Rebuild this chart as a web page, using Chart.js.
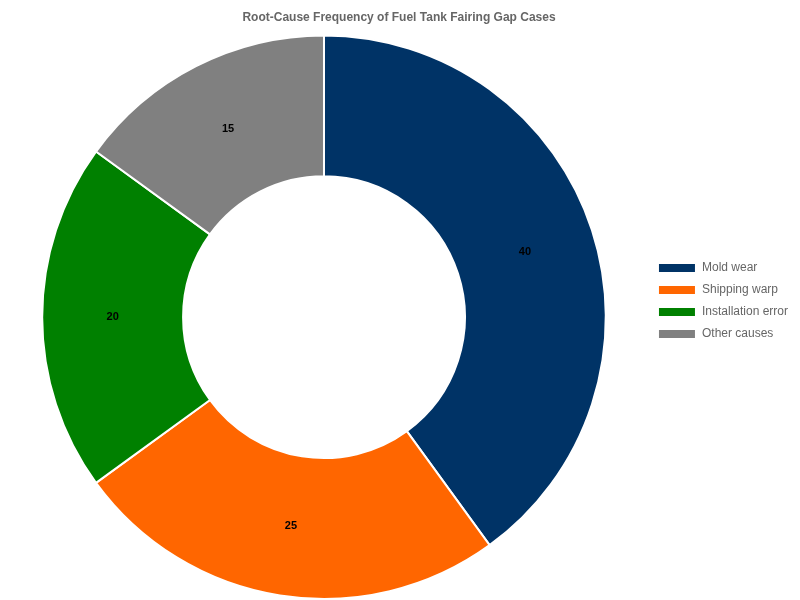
<!DOCTYPE html>
<html>
<head>
<meta charset="utf-8">
<script src="https://cdn.jsdelivr.net/npm/chart.js@4"></script>
<style>
html,body{margin:0;padding:0;background:#fff;}
#wrap{width:800px;height:600px;}
</style>
</head>
<body>
<div id="wrap"><canvas id="c"></canvas></div>
<script>
const categories = ["Mold wear", "Shipping warp", "Installation error", "Other causes"];
const values = [40, 25, 20, 15];
const colors = ["#003366", "#FF6600", "#008000", "#808080"];

const labelPlugin = {
  id: 'sliceLabels',
  afterDatasetsDraw(chart) {
    const ctx = chart.ctx;
    const meta = chart.getDatasetMeta(0);
    ctx.save();
    ctx.font = "bold 11px 'Liberation Sans', Arial, sans-serif";
    ctx.fillStyle = "#000";
    ctx.textAlign = "center";
    ctx.textBaseline = "middle";
    meta.data.forEach((arc, i) => {
      const p = arc.tooltipPosition();
      ctx.fillText(String(chart.data.datasets[0].data[i]), p.x, p.y);
    });
    ctx.restore();
  }
};

new Chart(document.getElementById('c'), {
  type: 'doughnut',
  data: {
    labels: categories,
    datasets: [{
      data: values,
      backgroundColor: colors,
      borderColor: "#ffffff",
      borderWidth: 2
    }]
  },
  options: {
    responsive: true,
    maintainAspectRatio: false,
    animation: false,
    cutout: '50%',
    layout: { padding: { top: 2, bottom: 0, right: 2 } },
    plugins: {
      title: {
        display: true,
        text: "Root-Cause Frequency of Fuel Tank Fairing Gap Cases",
        color: "#666",
        font: { family: "'Liberation Sans', Arial, sans-serif", size: 12, weight: 'bold' },
        padding: { top: 8, bottom: 10 }
      },
      legend: {
        position: 'right',
        labels: {
          color: "#666",
          font: { family: "'Liberation Sans', Arial, sans-serif", size: 12 },
          boxWidth: 38,
          boxHeight: 10,
          padding: 10
        }
      },
      tooltip: { enabled: false }
    }
  },
  plugins: [labelPlugin]
});
</script>
</body>
</html>
